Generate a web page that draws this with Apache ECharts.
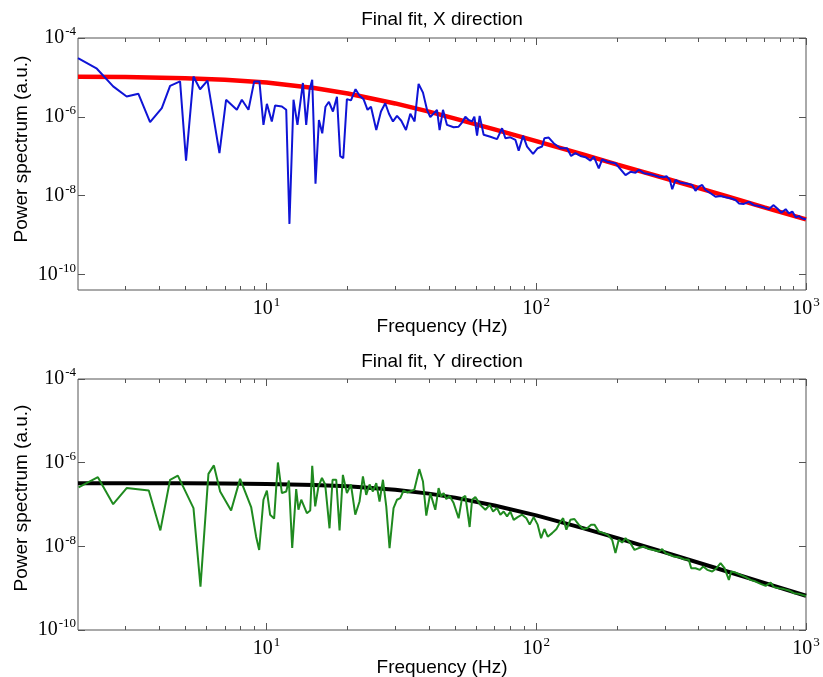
<!DOCTYPE html>
<html>
<head>
<meta charset="utf-8">
<script src="https://cdn.jsdelivr.net/npm/echarts@6/dist/echarts.min.js"></script>
<style>
  html, body { margin: 0; padding: 0; background: #fff; }
  #chart { width: 823px; height: 677px; }
</style>
</head>
<body>
<div id="chart"></div>
<script>
// ---- X direction: measured power spectrum (Hz, a.u.) ----
const xFreq = [2.00, 2.35, 2.70, 3.03, 3.35, 3.70, 4.09, 4.39, 4.78, 5.03, 5.36, 5.67, 6.04, 6.69, 7.08, 7.76, 8.10, 8.57, 9.00, 9.41,
  9.74, 10.03, 10.46, 10.76, 11.40, 11.83, 12.16, 12.59, 13.02, 13.64, 14.03, 14.43, 14.77, 15.19, 15.64, 16.09, 16.54, 17.03, 17.63, 18.24,
  18.76, 19.25, 19.86, 20.56, 21.38, 22.12, 22.89, 23.69, 24.39, 25.52, 26.56, 27.55, 28.44, 29.43, 30.46, 31.59, 32.88, 34.12, 35.39, 36.62,
  38.02, 39.35, 40.47, 42.85, 43.81, 45.10, 46.67, 49.39, 51.54, 53.06, 54.58, 56.14, 57.80, 58.95, 60.32, 61.68, 63.82, 67.58, 71.55, 74.68,
  76.82, 80.17, 83.66, 86.06, 89.35, 92.45, 97.32, 101.2, 105.1, 107.2, 111.2, 116.0, 122.9, 130.1, 134.6, 139.7, 145.8, 152.2, 158.8, 163.4,
  170.5, 175.5, 183.2, 196.6, 214.2, 223.5, 233.3, 239.9, 250.4, 261.3, 272.7, 284.6, 297.0, 303.9, 312.6, 319.2, 328.3, 342.6, 362.7, 378.5,
  389.3, 400.5, 412.3, 424.1, 442.7, 462.0, 482.2, 503.2, 525.2, 548.1, 563.8, 588.4, 614.2, 641.1, 669.0, 698.3, 728.7, 756.6, 783.0, 810.1,
  840.5, 864.5, 889.9, 915.5, 941.5, 969.0, 1000];
const xPower = [3.1e-5, 1.66e-5, 5.9e-6, 3.27e-6, 3.83e-6, 7.3e-7, 1.66e-6, 6.1e-6, 7.9e-6, 7.7e-8, 1.05e-5, 5.0e-6, 8.3e-6, 1.19e-7, 2.7e-6, 1.5e-6, 2.7e-6, 1.5e-6, 7.9e-6, 7.9e-6,
  6.2e-7, 2.13e-6, 7.6e-7, 1.93e-6, 1.82e-6, 1.5e-6, 1.9e-9, 2.7e-6, 6.2e-7, 7.2e-6, 6.2e-7, 4.8e-6, 8.7e-6, 2.0e-8, 8.3e-7, 3.8e-7, 1.8e-6, 2.4e-6, 1.36e-6, 3.2e-6,
  1.0e-7, 8.9e-8, 2.8e-6, 2.6e-6, 5.0e-6, 3.4e-6, 2.8e-6, 1.5e-6, 1.8e-6, 4.6e-7, 1.36e-6, 2.2e-6, 1.19e-6, 7.6e-7, 1.05e-6, 7.9e-7, 4.6e-7, 1.19e-6, 7.6e-7, 6.8e-6,
  4.1e-6, 1.5e-6, 9.8e-7, 1.5e-6, 4.6e-7, 1.5e-6, 6.2e-7, 5.4e-7, 5.6e-7, 7.1e-7, 1.0e-6, 8.3e-7, 7.6e-7, 1.0e-6, 3.3e-7, 1.05e-6, 3.5e-7, 3.1e-7, 2.7e-7, 5.1e-7,
  2.85e-7, 3.0e-7, 2.6e-7, 1.38e-7, 3.3e-7, 1.75e-7, 1.14e-7, 1.59e-7, 1.75e-7, 2.85e-7, 2.96e-7, 2.13e-7, 1.59e-7, 1.59e-7, 1.01e-7, 1.19e-7, 1.01e-7, 9.4e-8, 7.7e-8, 9.7e-8,
  4.9e-8, 8.3e-8, 7.2e-8, 6.6e-8, 3.3e-8, 4.0e-8, 3.8e-8, 4.5e-8, 3.7e-8, 3.5e-8, 3.3e-8, 3.0e-8, 2.9e-8, 3.1e-8, 2.5e-8, 1.44e-8, 2.5e-8, 2.1e-8, 2.0e-8, 1.85e-8,
  1.32e-8, 1.67e-8, 1.85e-8, 1.38e-8, 1.14e-8, 9.3e-9, 9.7e-9, 9.0e-9, 8.5e-9, 7.7e-9, 6.3e-9, 6.1e-9, 6.9e-9, 5.7e-9, 5.4e-9, 5.0e-9, 4.5e-9, 5.7e-9, 4.7e-9, 3.65e-9,
  4.5e-9, 3.5e-9, 3.9e-9, 2.8e-9, 3.0e-9, 2.6e-9, 2.5e-9];

// ---- X direction: fitted spectrum ----
const xFitFreq  = [2, 3, 5, 7, 10, 15, 20, 30, 40, 50, 70, 100, 150, 200, 300, 500, 700, 1000];
const xFitPower = [1.04e-5, 1.02e-5, 9.5e-6, 8.7e-6, 7.4e-6, 5.4e-6, 3.9e-6, 2.18e-6, 1.35e-6, 9.0e-7, 4.8e-7, 2.41e-7, 1.09e-7, 6.1e-8, 2.74e-8, 9.9e-9, 5.0e-9, 2.47e-9];

// ---- Y direction: measured power spectrum ----
const yFreq = [2.01, 2.37, 2.70, 3.03, 3.66, 4.04, 4.39, 4.69, 5.36, 5.69, 6.09, 6.38, 6.73, 7.39, 7.98, 8.77, 9.15, 9.39, 9.74, 10.03,
  10.31, 10.67, 11.02, 11.40, 11.83, 12.10, 12.45, 12.88, 13.13, 13.45, 14.11, 14.52, 14.77, 15.15, 15.58, 16.05, 16.50, 17.12, 17.57, 18.13,
  18.65, 19.19, 19.86, 20.56, 21.33, 22.12, 22.77, 23.42, 24.10, 24.80, 25.52, 26.24, 27.01, 27.79, 28.58, 29.57, 30.46, 31.32, 32.22, 33.17,
  34.12, 35.30, 36.84, 38.02, 39.11, 40.47, 42.23, 43.44, 44.35, 45.35, 46.39, 47.71, 49.39, 51.54, 53.06, 54.58, 56.62, 57.80, 59.45, 62.05,
  64.76, 67.18, 69.16, 71.55, 73.60, 75.71, 77.93, 80.17, 82.46, 85.33, 88.59, 91.90, 94.54, 97.81, 101.2, 104.2, 107.2, 110.3, 114.5, 118.8,
  122.9, 125.8, 129.3, 133.8, 138.5, 143.7, 149.2, 154.4, 159.7, 164.3, 170.5, 177.9, 184.1, 191.1, 196.6, 202.2, 208.2, 214.2, 223.5, 231.3,
  239.9, 250.4, 261.3, 272.7, 284.6, 293.0, 301.3, 312.6, 323.6, 337.7, 352.4, 367.8, 375.4, 389.3, 404.0, 415.9, 430.4, 449.2, 465.9, 482.2,
  498.9, 517.6, 528.4, 548.1, 572.1, 597.0, 623.1, 650.5, 678.8, 708.6, 739.5, 760.3, 793.6, 828.2, 864.5, 902.3, 941.5, 969.0, 1000];
const yPower = [2.55e-7, 4.5e-7, 1.02e-7, 2.47e-7, 2.16e-7, 2.4e-8, 3.9e-7, 4.9e-7, 8.2e-8, 1.09e-9, 5.4e-7, 8.6e-7, 2.05e-7, 7.2e-8, 4.1e-7, 8.7e-8, 1.7e-8, 8.2e-9, 1.3e-7, 2.16e-7,
  5.7e-8, 4.6e-8, 1.01e-6, 1.87e-7, 2.05e-7, 3.75e-7, 9.1e-9, 2.33e-7, 7.5e-8, 1.3e-7, 6.2e-8, 7.2e-8, 8.4e-7, 9.0e-8, 2.7e-7, 4.3e-7, 3.0e-7, 2.7e-8, 3.9e-7, 3.9e-7,
  2.4e-8, 5.1e-7, 1.87e-7, 3.0e-7, 5.7e-8, 1.18e-7, 4.7e-7, 1.7e-7, 3.0e-7, 2.05e-7, 3.25e-7, 1.18e-7, 3.9e-7, 9.0e-8, 9.1e-9, 8.2e-8, 1.3e-7, 1.42e-7, 2.16e-7, 1.94e-7,
  2.05e-7, 2.25e-7, 7.0e-7, 3.55e-7, 5.4e-8, 1.87e-7, 7.5e-8, 2.47e-7, 1.55e-7, 1.87e-7, 1.35e-7, 1.6e-7, 1.08e-7, 4.7e-8, 1.42e-7, 1.6e-7, 2.9e-8, 1.3e-7, 1.5e-7, 9.8e-8,
  7.5e-8, 9.8e-8, 6.8e-8, 8.2e-8, 5.7e-8, 6.8e-8, 5.2e-8, 6.8e-8, 4.3e-8, 5.0e-8, 5.7e-8, 4.7e-8, 3.3e-8, 5.0e-8, 3.3e-8, 1.57e-8, 2.6e-8, 1.7e-8, 2.07e-8, 2.6e-8,
  3.9e-8, 4.7e-8, 2.5e-8, 4.3e-8, 4.5e-8, 3.3e-8, 2.6e-8, 2.7e-8, 3.3e-8, 3.3e-8, 2.26e-8, 2.07e-8, 1.88e-8, 1.43e-8, 6.9e-9, 1.43e-8, 1.23e-8, 1.57e-8, 1.19e-8, 8.2e-9,
  9.1e-9, 9.9e-9, 8.6e-9, 8.2e-9, 7.5e-9, 8.6e-9, 6.9e-9, 6.3e-9, 5.7e-9, 5.5e-9, 4.9e-9, 4.75e-9, 3.0e-9, 3.0e-9, 2.74e-9, 3.3e-9, 2.74e-9, 2.5e-9, 3.0e-9, 3.96e-9,
  3.0e-9, 1.58e-9, 2.5e-9, 2.36e-9, 2.08e-9, 1.83e-9, 1.58e-9, 1.44e-9, 1.27e-9, 1.13e-9, 1.36e-9, 1.06e-9, 1.0e-9, 9.5e-10, 8.8e-10, 7.6e-10, 7.3e-10, 6.9e-10, 6.5e-10];

// ---- Y direction: fitted spectrum ----
const yFitFreq  = [2, 3, 5, 7, 10, 15, 20, 30, 40, 50, 70, 100, 150, 200, 300, 500, 700, 1000];
const yFitPower = [3.24e-7, 3.24e-7, 3.21e-7, 3.17e-7, 3.10e-7, 2.92e-7, 2.72e-7, 2.25e-7, 1.82e-7, 1.46e-7, 9.5e-8, 5.5e-8, 2.69e-8, 1.57e-8, 7.2e-9, 2.61e-9, 1.34e-9, 6.6e-10];

// ---- Axis ticks (decade exponents and minor frequencies) ----
const freqDecades = [1, 2, 3];
const powerDecades = [-10, -8, -6, -4];
const minorFreqs = [3, 4, 5, 6, 7, 8, 9, 20, 30, 40, 50, 60, 70, 80, 90, 200, 300, 400, 500, 600, 700, 800, 900];

const L10 = Math.log10;
const toLog = (f, p) => f.map((v, i) => [L10(v), L10(p[i])]);
const minorLog = minorFreqs.map(L10);

const FRAME = '#555';
const SANS = 'Liberation Sans, Arial, sans-serif';
const SERIF = 'Liberation Serif, Times New Roman, serif';

// "10" with a raised exponent
const powLabel = {
  formatter: v => '{b|10}{e|' + v + '}',
  rich: {
    b: { fontFamily: SERIF, fontSize: 20, color: '#000' },
    e: { fontFamily: SERIF, fontSize: 13, color: '#000', padding: [0, 0, 12, 1] }
  }
};

function xAxes(g) {
  const base = { gridIndex: g, type: 'value', min: L10(2), max: 3,
    axisLine: { show: false }, splitLine: { show: false } };
  const tickStyle = { color: FRAME, width: 1 };
  return [
    Object.assign({}, base, { position: 'bottom',
      axisTick: { show: true, inside: true, length: 4, customValues: minorLog, lineStyle: tickStyle },
      axisLabel: Object.assign({ show: true, margin: 6, customValues: freqDecades }, powLabel) }),
    Object.assign({}, base, { position: 'bottom',
      axisTick: { show: true, inside: true, length: 7, customValues: freqDecades, lineStyle: tickStyle },
      axisLabel: { show: false } }),
    Object.assign({}, base, { position: 'top',
      axisTick: { show: true, inside: true, length: 4, customValues: minorLog, lineStyle: tickStyle },
      axisLabel: { show: false } }),
    Object.assign({}, base, { position: 'top',
      axisTick: { show: true, inside: true, length: 7, customValues: freqDecades, lineStyle: tickStyle },
      axisLabel: { show: false } })
  ];
}

function yAxes(g, yMin) {
  const base = { gridIndex: g, type: 'value', min: yMin, max: -4,
    axisLine: { show: false }, splitLine: { show: false } };
  const tickStyle = { color: FRAME, width: 1 };
  return [
    Object.assign({}, base, { position: 'left',
      axisTick: { show: true, inside: true, length: 7, customValues: powerDecades, lineStyle: tickStyle },
      axisLabel: Object.assign({ show: true, margin: 2, customValues: powerDecades }, powLabel) }),
    Object.assign({}, base, { position: 'right',
      axisTick: { show: true, inside: true, length: 7, customValues: powerDecades, lineStyle: tickStyle },
      axisLabel: { show: false } })
  ];
}

const gridStyle = { show: true, borderColor: FRAME, borderWidth: 1, backgroundColor: '#fff' };

function textEl(text, x, y, rotate) {
  return {
    type: 'text', x: x, y: y, rotation: rotate ? Math.PI / 2 : 0,
    style: { text: text, font: '19px ' + SANS, fill: '#000', textAlign: 'center', textVerticalAlign: 'middle' }
  };
}

const option = {
  animation: false,
  backgroundColor: '#fff',
  grid: [
    Object.assign({ left: 78, top: 38, width: 728, height: 252 }, gridStyle),
    Object.assign({ left: 78, top: 379, width: 728, height: 251 }, gridStyle)
  ],
  xAxis: xAxes(0).concat(xAxes(1)),
  yAxis: yAxes(0, -10.4).concat(yAxes(1, -10)),
  series: [
    { name: 'X fit', type: 'line', xAxisIndex: 0, yAxisIndex: 0, showSymbol: false,
      data: toLog(xFitFreq, xFitPower), lineStyle: { color: '#ff0000', width: 4.5 }, z: 2 },
    { name: 'X spectrum', type: 'line', xAxisIndex: 0, yAxisIndex: 0, showSymbol: false,
      data: toLog(xFreq, xPower), lineStyle: { color: '#0f14d6', width: 2 }, z: 3 },
    { name: 'Y fit', type: 'line', xAxisIndex: 4, yAxisIndex: 2, showSymbol: false,
      data: toLog(yFitFreq, yFitPower), lineStyle: { color: '#000000', width: 4 }, z: 2 },
    { name: 'Y spectrum', type: 'line', xAxisIndex: 4, yAxisIndex: 2, showSymbol: false,
      data: toLog(yFreq, yPower), lineStyle: { color: '#1f8a1f', width: 2 }, z: 3 }
  ],
  graphic: [
    textEl('Final fit, X direction', 442, 20),
    textEl('Frequency (Hz)', 442, 327),
    textEl('Power spectrum (a.u.)', 22, 149, true),
    textEl('Final fit, Y direction', 442, 362),
    textEl('Frequency (Hz)', 442, 668),
    textEl('Power spectrum (a.u.)', 22, 498, true)
  ]
};

const chart = echarts.init(document.getElementById('chart'), null, { renderer: 'canvas' });
chart.setOption(option);
</script>
</body>
</html>
